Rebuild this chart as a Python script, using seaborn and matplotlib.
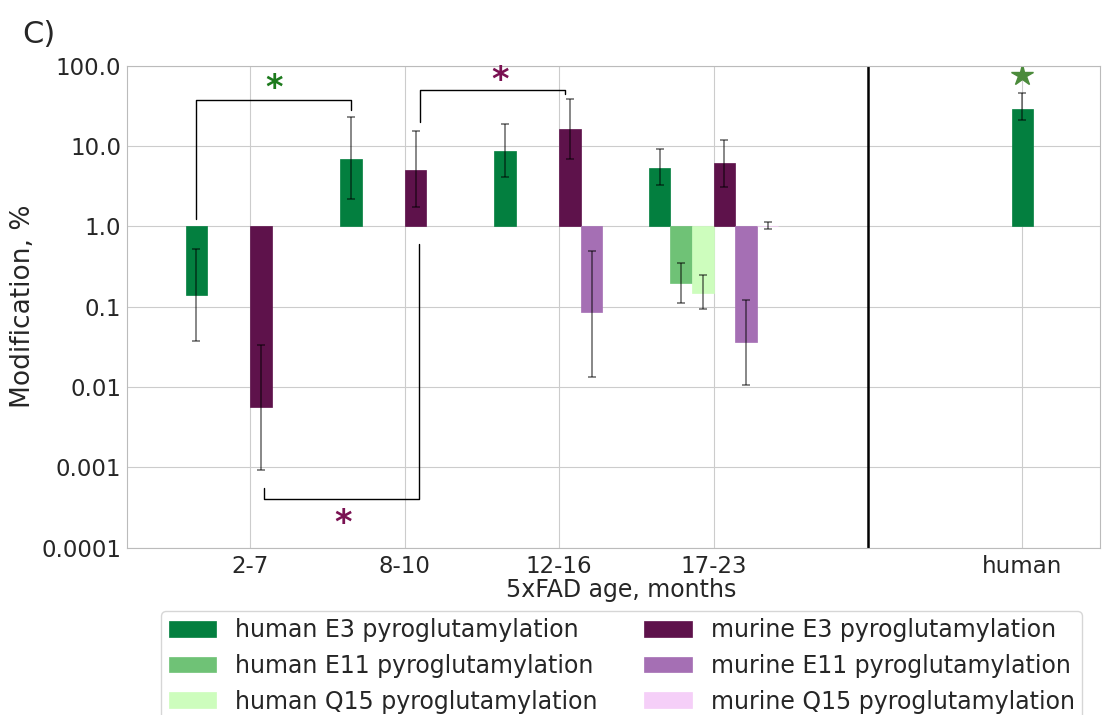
import numpy as np
import seaborn as sns
import matplotlib
matplotlib.use("Agg")
import matplotlib.pyplot as plt

# age groups of the 5xFAD mice, plus the human samples
ages = ["2-7", "8-10", "12-16", "17-23"]
human_label = "human"

series = ["human E3 pyroglutamylation", "human E11 pyroglutamylation",
          "human Q15 pyroglutamylation", "murine E3 pyroglutamylation",
          "murine E11 pyroglutamylation", "murine Q15 pyroglutamylation"]
colors = ["#037f3f", "#6fc276", "#cdfdbd", "#5e124b", "#a56fb4", "#f5cff8"]

nan = np.nan
# mean values (%), lower and upper error bar ends
human_e3 = [0.14, 7.0, 8.6, 5.4]
human_e3_lo = [0.037, 2.17, 4.1, 3.3]
human_e3_hi = [0.53, 22.8, 18.6, 9.1]

human_e11 = [nan, nan, nan, 0.195]
human_e11_lo = [nan, nan, nan, 0.11]
human_e11_hi = [nan, nan, nan, 0.35]

human_q15 = [nan, nan, nan, 0.15]
human_q15_lo = [nan, nan, nan, 0.093]
human_q15_hi = [nan, nan, nan, 0.245]

murine_e3 = [0.0057, 5.1, 16.1, 6.1]
murine_e3_lo = [0.00094, 1.72, 7.0, 3.06]
murine_e3_hi = [0.033, 15.2, 39.0, 11.8]

murine_e11 = [nan, nan, 0.085, 0.036]
murine_e11_lo = [nan, nan, 0.0135, 0.0107]
murine_e11_hi = [nan, nan, 0.50, 0.12]

murine_q15 = [nan, nan, nan, 1.0]
murine_q15_lo = [nan, nan, nan, 0.92]
murine_q15_hi = [nan, nan, nan, 1.12]

# human patients (only E3)
patients_e3 = 29.0
patients_e3_lo = 21.0
patients_e3_hi = 46.0

yticks = [0.0001, 0.001, 0.01, 0.1, 1.0, 10.0, 100.0]
ytick_labels = ["0.0001", "0.001", "0.01", "0.1", "1.0", "10.0", "100.0"]

means = [human_e3, human_e11, human_q15, murine_e3, murine_e11, murine_q15]
lows = [human_e3_lo, human_e11_lo, human_q15_lo, murine_e3_lo, murine_e11_lo, murine_q15_lo]
highs = [human_e3_hi, human_e11_hi, human_q15_hi, murine_e3_hi, murine_e11_hi, murine_q15_hi]

sns.set_style("whitegrid")
plt.rcParams['font.family'] = ['DejaVu Sans']

fig = plt.figure(figsize=(11.03, 7.15), dpi=100)
ax = fig.add_axes([0.115, 0.234, 0.882, 0.674])

w = 0.14
x = np.arange(len(ages))
err_kw = dict(fmt="none", ecolor="black", alpha=0.55, elinewidth=1.2, capsize=3, capthick=1.2)

for i, (m, lo, hi) in enumerate(zip(means, lows, highs)):
    m = np.array(m, dtype=float)
    lo = np.array(lo, dtype=float)
    hi = np.array(hi, dtype=float)
    xs = x + (i - 2.5) * w
    ax.bar(xs, m - 1, bottom=1, width=w, color=colors[i], label=series[i],
           edgecolor=colors[i], linewidth=0.5)
    ok = ~np.isnan(m)
    ax.errorbar(xs[ok], m[ok], yerr=[m[ok] - lo[ok], hi[ok] - m[ok]], **err_kw)

# human patients group at position 5
hx = 5
ax.bar([hx], [patients_e3 - 1], bottom=1, width=w, color=colors[0],
       edgecolor=colors[0], linewidth=0.5)
ax.errorbar([hx], [patients_e3], yerr=[[patients_e3 - patients_e3_lo],
            [patients_e3_hi - patients_e3]], **err_kw)
ax.plot([hx], [76], marker="*", color="#4b8b3b", markersize=16, linestyle="none")

# separator between mice and human
ax.axvline(4, color="black", linewidth=1.8)

# significance brackets
green = "#1d7a1d"
purple = "#7a1152"
x_h = x[0] - 2.5 * w
ax.plot([x_h, x_h, 0.654, 0.654], [1.22, 37, 37, 28], color="black", lw=1)
ax.text(0.155, 52, "*", color=green, fontsize=24, ha="center", va="center", fontweight="bold")

ax.plot([1.10, 1.10, 2.04, 2.04], [19.7, 49.5, 49.5, 45], color="black", lw=1)
ax.text(1.62, 65, "*", color=purple, fontsize=24, ha="center", va="center", fontweight="bold")

ax.plot([1.094, 1.094, 0.09, 0.09], [0.6, 0.0004, 0.0004, 0.00056], color="black", lw=1)
ax.text(0.60, 0.0002, "*", color=purple, fontsize=24, ha="center", va="center", fontweight="bold")

ax.set_yscale("log")
ax.set_ylim(0.0001, 100)
ax.set_yticks(yticks)
ax.set_yticklabels(ytick_labels)
ax.minorticks_off()
ax.set_xlim(-0.8, 5.5)
ax.set_xticks(list(x) + [hx])
ax.set_xticklabels(ages + [human_label])
ax.tick_params(labelsize=16.5, length=0, pad=5)
ax.tick_params(axis="y", pad=4)
ax.set_xlabel("5xFAD age, months", fontsize=17, labelpad=0)
ax.xaxis.label.set_x(0.508)
ax.set_ylabel("Modification, %", fontsize=19, labelpad=4)
for s in ax.spines.values():
    s.set_color("#bbbbbb")

fig.text(0.02, 0.952, "C)", fontsize=22, ha="left", va="center")

fig.legend(loc="upper center", bbox_to_anchor=(0.5635, 0.1455), ncol=2, fontsize=17,
           handlelength=2.0, handleheight=0.65, columnspacing=2.0, frameon=True,
           borderpad=0.3, labelspacing=0.5, borderaxespad=0)

fig.savefig("out.png", dpi=100)
